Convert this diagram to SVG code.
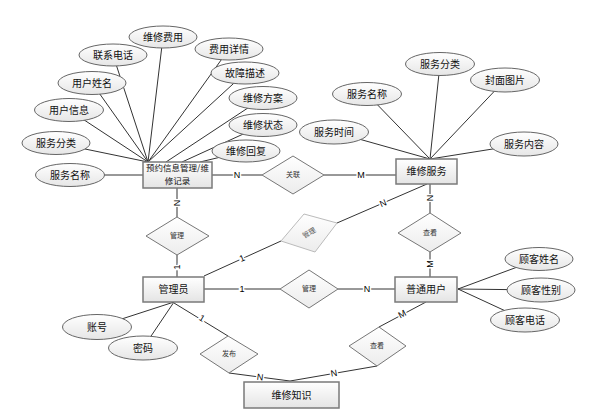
<svg xmlns="http://www.w3.org/2000/svg" width="591" height="418" viewBox="0 0 591 418">
<defs>
<linearGradient id="gEnt" x1="0" y1="0" x2="0" y2="1"><stop offset="0" stop-color="#ffffff"/><stop offset="1" stop-color="#e4e4e4"/></linearGradient>
<linearGradient id="gEll" x1="0" y1="0" x2="0" y2="1"><stop offset="0" stop-color="#ffffff"/><stop offset="1" stop-color="#e6e6e6"/></linearGradient>
<linearGradient id="gDia" x1="0" y1="0" x2="0" y2="1"><stop offset="0" stop-color="#ffffff"/><stop offset="1" stop-color="#ececec"/></linearGradient>
</defs>
<style>
.ln{stroke:#333;stroke-width:1;fill:none}
.ent{fill:url(#gEnt);stroke:#7a7a7a;stroke-width:1.5}
.ell{fill:url(#gEll);stroke:#666;stroke-width:1}
.dia{fill:url(#gDia);stroke:#777;stroke-width:1}
.dia2{fill:url(#gDia);stroke:#bbb;stroke-width:1}
text{font-family:"Noto Sans CJK SC","Liberation Sans",sans-serif;fill:#111;text-anchor:middle}
.t{font-size:10px}
.te{font-size:10px}
.td{font-size:7px;fill:#333}
.lb{font-family:"Liberation Sans",sans-serif;font-size:9px;fill:#000;stroke:#fff;stroke-width:3;paint-order:stroke}
</style>
<g id="connectors">
<line class="ln" x1="148" y1="162" x2="163" y2="37"/>
<line class="ln" x1="148" y1="162" x2="113" y2="55"/>
<line class="ln" x1="148" y1="162" x2="229" y2="49"/>
<line class="ln" x1="148" y1="162" x2="92" y2="83"/>
<line class="ln" x1="148" y1="162" x2="245" y2="73"/>
<line class="ln" x1="148" y1="162" x2="69" y2="110"/>
<line class="ln" x1="166" y1="162" x2="263" y2="98"/>
<line class="ln" x1="182" y1="162" x2="263" y2="125"/>
<line class="ln" x1="148" y1="162" x2="56" y2="143"/>
<line class="ln" x1="200" y1="162" x2="246" y2="151"/>
<line class="ln" x1="70" y1="175" x2="143" y2="175"/>
<line class="ln" x1="430" y1="159" x2="440" y2="64"/>
<line class="ln" x1="430" y1="159" x2="505" y2="80"/>
<line class="ln" x1="430" y1="159" x2="367" y2="94"/>
<line class="ln" x1="430" y1="159" x2="334" y2="132"/>
<line class="ln" x1="430" y1="159" x2="524" y2="144"/>
<line class="ln" x1="458" y1="289" x2="539" y2="259"/>
<line class="ln" x1="458" y1="289" x2="541" y2="290"/>
<line class="ln" x1="458" y1="289" x2="525" y2="320"/>
<line class="ln" x1="174" y1="302" x2="97" y2="327"/>
<line class="ln" x1="174" y1="302" x2="143" y2="348"/>
<line class="ln" x1="212" y1="175" x2="262" y2="175"/>
<line class="ln" x1="324" y1="175" x2="396" y2="175"/>
<line class="ln" x1="177" y1="188" x2="177" y2="217"/>
<line class="ln" x1="177" y1="255" x2="177" y2="277"/>
<line class="ln" x1="430" y1="184" x2="430" y2="213"/>
<line class="ln" x1="430" y1="252" x2="430" y2="277"/>
<line class="ln" x1="204" y1="289" x2="280" y2="289"/>
<line class="ln" x1="338" y1="289" x2="395" y2="289"/>
<line class="ln" x1="204" y1="276" x2="281" y2="241"/>
<line class="ln" x1="337" y1="223" x2="427" y2="184"/>
<line class="ln" x1="174" y1="303" x2="228" y2="336"/>
<line class="ln" x1="229" y1="373" x2="290" y2="381"/>
<line class="ln" x1="426" y1="302" x2="379" y2="327"/>
<line class="ln" x1="377" y1="366" x2="290" y2="381"/>
<text class="lb" x="237" y="175" dy="0.35em">N</text>
<text class="lb" x="361" y="175" dy="0.35em">M</text>
<text class="lb" transform="translate(177,203) rotate(-90)" dy="0.35em">N</text>
<text class="lb" transform="translate(177,267) rotate(-90)" dy="0.35em">1</text>
<text class="lb" transform="translate(430,198) rotate(-90)" dy="0.35em">N</text>
<text class="lb" transform="translate(430,264) rotate(-90)" dy="0.35em">M</text>
<text class="lb" x="242" y="289" dy="0.35em">1</text>
<text class="lb" x="367" y="289" dy="0.35em">N</text>
<text class="lb" transform="translate(242,258) rotate(-24)" dy="0.35em">1</text>
<text class="lb" transform="translate(383,203) rotate(-23)" dy="0.35em">N</text>
<text class="lb" transform="translate(202,318) rotate(31)" dy="0.35em">1</text>
<text class="lb" transform="translate(260,377) rotate(7)" dy="0.35em">N</text>
<text class="lb" transform="translate(402,314) rotate(-28)" dy="0.35em">M</text>
<text class="lb" transform="translate(334,373) rotate(-10)" dy="0.35em">N</text>
</g>
<g id="attr-weixiufeiyong"><ellipse class="ell" cx="163" cy="37" rx="34" ry="11"/><text class="te" x="163" y="37" dy="0.35em">维修费用</text></g>
<g id="attr-lianxidianhua"><ellipse class="ell" cx="113" cy="55" rx="34" ry="11"/><text class="te" x="113" y="55" dy="0.35em">联系电话</text></g>
<g id="attr-feiyongxiangqing"><ellipse class="ell" cx="229" cy="49" rx="34" ry="11"/><text class="te" x="229" y="49" dy="0.35em">费用详情</text></g>
<g id="attr-yonghuxingming"><ellipse class="ell" cx="92" cy="83" rx="34" ry="11.5"/><text class="te" x="92" y="83" dy="0.35em">用户姓名</text></g>
<g id="attr-guzhangmiaoshu"><ellipse class="ell" cx="245" cy="73" rx="34" ry="11"/><text class="te" x="245" y="73" dy="0.35em">故障描述</text></g>
<g id="attr-yonghuxinxi"><ellipse class="ell" cx="69" cy="110" rx="34.5" ry="11.5"/><text class="te" x="69" y="110" dy="0.35em">用户信息</text></g>
<g id="attr-weixiufangan"><ellipse class="ell" cx="263" cy="98" rx="34" ry="11.5"/><text class="te" x="263" y="98" dy="0.35em">维修方案</text></g>
<g id="attr-weixiuzhuangtai"><ellipse class="ell" cx="263" cy="125" rx="34" ry="11.5"/><text class="te" x="263" y="125" dy="0.35em">维修状态</text></g>
<g id="attr-fuwufenlei1"><ellipse class="ell" cx="56" cy="143" rx="34" ry="11.5"/><text class="te" x="56" y="143" dy="0.35em">服务分类</text></g>
<g id="attr-weixiuhuifu"><ellipse class="ell" cx="246" cy="151" rx="34" ry="11"/><text class="te" x="246" y="151" dy="0.35em">维修回复</text></g>
<g id="attr-fuwumingcheng1"><ellipse class="ell" cx="70" cy="175" rx="34.5" ry="11.5"/><text class="te" x="70" y="175" dy="0.35em">服务名称</text></g>
<g id="attr-fuwufenlei2"><ellipse class="ell" cx="440" cy="64" rx="34.5" ry="11.5"/><text class="te" x="440" y="64" dy="0.35em">服务分类</text></g>
<g id="attr-fengmiantupian"><ellipse class="ell" cx="505" cy="80" rx="34.5" ry="12"/><text class="te" x="505" y="80" dy="0.35em">封面图片</text></g>
<g id="attr-fuwumingcheng2"><ellipse class="ell" cx="367" cy="94" rx="34.5" ry="11.5"/><text class="te" x="367" y="94" dy="0.35em">服务名称</text></g>
<g id="attr-fuwushijian"><ellipse class="ell" cx="334" cy="132" rx="34.5" ry="12"/><text class="te" x="334" y="132" dy="0.35em">服务时间</text></g>
<g id="attr-fuwuneirong"><ellipse class="ell" cx="524" cy="144" rx="34" ry="12"/><text class="te" x="524" y="144" dy="0.35em">服务内容</text></g>
<g id="attr-gukexingming"><ellipse class="ell" cx="539" cy="259" rx="34" ry="11.5"/><text class="te" x="539" y="259" dy="0.35em">顾客姓名</text></g>
<g id="attr-gukexingbie"><ellipse class="ell" cx="541" cy="290" rx="34" ry="12"/><text class="te" x="541" y="290" dy="0.35em">顾客性别</text></g>
<g id="attr-gukedianhua"><ellipse class="ell" cx="525" cy="320" rx="34.5" ry="12"/><text class="te" x="525" y="320" dy="0.35em">顾客电话</text></g>
<g id="attr-zhanghao"><ellipse class="ell" cx="97" cy="327" rx="34.5" ry="12.5"/><text class="te" x="97" y="327" dy="0.35em">账号</text></g>
<g id="attr-mima"><ellipse class="ell" cx="143" cy="348" rx="34.5" ry="12"/><text class="te" x="143" y="348" dy="0.35em">密码</text></g>
<g id="ent-yuyue"><rect class="ent" x="143" y="162" width="69" height="26"/><text class="t" x="177.5" y="168.5" dy="0.35em" style="font-size:8.5px">预约信息管理/维</text><text class="t" x="177.5" y="181.5" dy="0.35em" style="font-size:8.5px">修记录</text></g>
<g id="ent-weixiufuwu"><rect class="ent" x="396" y="159" width="61" height="25"/><text class="t" x="426.5" y="171.5" dy="0.35em">维修服务</text></g>
<g id="ent-guanliyuan"><rect class="ent" x="143" y="277" width="61" height="25"/><text class="t" x="173.5" y="289.5" dy="0.35em">管理员</text></g>
<g id="ent-putongyonghu"><rect class="ent" x="395" y="277" width="62" height="25"/><text class="t" x="426" y="289.5" dy="0.35em">普通用户</text></g>
<g id="ent-weixiuzhishi"><rect class="ent" x="244" y="382" width="95" height="26"/><text class="t" x="291.5" y="395" dy="0.35em">维修知识</text></g>
<g id="rel-guanlian"><polygon class="dia" points="262,175 293,156 324,175 293,194"/><text class="td" x="293" y="175" dy="0.35em">关联</text></g>
<g id="rel-guanli1"><polygon class="dia" points="146,236 177,217 209,236 177,255"/><text class="td" x="177" y="236" dy="0.35em">管理</text></g>
<g id="rel-guanli2"><polygon class="dia2" points="281,241 304,214 337,223 315,252"/><text class="td" transform="translate(309,233) rotate(-30)" dy="0.35em" style="fill:#555">管理</text></g>
<g id="rel-chakan1"><polygon class="dia" points="398,233 430,213 461,233 430,252"/><text class="td" x="430" y="233" dy="0.35em">查看</text></g>
<g id="rel-guanli3"><polygon class="dia" points="280,289 309,270 338,289 309,308"/><text class="td" x="309" y="289" dy="0.35em">管理</text></g>
<g id="rel-fabu"><polygon class="dia" points="200,354 228,336 258,354 229,373"/><text class="td" x="229" y="354" dy="0.35em">发布</text></g>
<g id="rel-chakan2"><polygon class="dia" points="349,346 379,327 406,346 377,366"/><text class="td" x="377" y="346" dy="0.35em">查看</text></g>
</svg>
